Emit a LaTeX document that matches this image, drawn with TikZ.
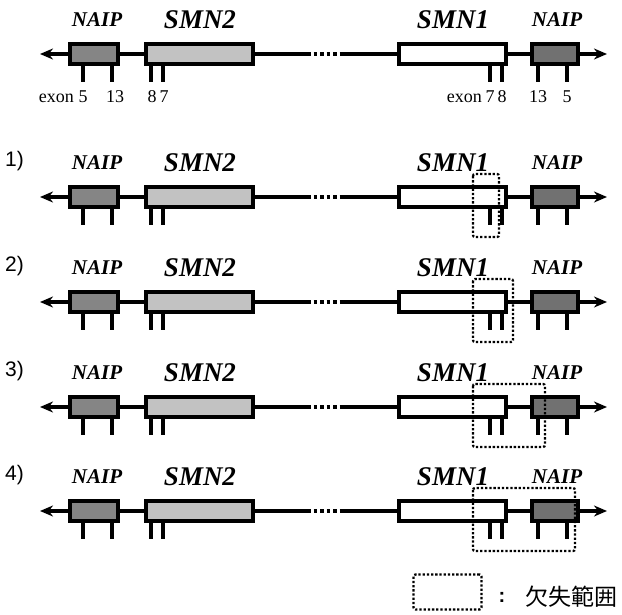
\documentclass[tikz,border=0pt]{standalone}
\usepackage{fontspec}
\setmainfont{Liberation Serif}
\newfontfamily\rowfont{Liberation Sans}
\newfontfamily\cjk{Noto Sans CJK JP}
\usetikzlibrary{arrows.meta}

\definecolor{naipgray}{gray}{0.52}
\definecolor{smngray}{gray}{0.76}

\tikzset{
  genebox/.style={draw, line width=3.6pt, rectangle, inner sep=0pt, minimum height=20.5pt},
  chromline/.style={line width=3.2pt},
  exontick/.style={line width=4pt},
  delbox/.style={line width=2.3pt, dash pattern=on 2.3pt off 1.9pt, rounded corners=2pt},
  smnlabel/.style={font=\fontsize{27}{27}\selectfont\bfseries\itshape},
  naiplabel/.style={font=\fontsize{21}{21}\selectfont\bfseries\itshape},
  exonlabel/.style={font=\fontsize{18}{18}\selectfont, inner sep=0pt, anchor=base},
}

\begin{document}
\begin{tikzpicture}[x=1pt, y=-1pt]
    \useasboundingbox (0,0) rectangle (622,614);
    % five copies of the region, reference first
    \foreach \n/\L in {0/54, 1/197, 2/302, 3/407, 4/511} {
        \coordinate (tipL\n) at (40,\L);
        \coordinate (gapA\n) at (307,\L);
        \coordinate (gapB\n) at (342,\L);
        \coordinate (tipR\n) at (607,\L);
        \node[genebox, fill=naipgray, minimum width=48.5pt] (naipL\n) at (94,\L) {};
        \node[genebox, fill=smngray, minimum width=107.5pt] (smnii\n) at (199.5,\L) {};
        \node[genebox, fill=white, minimum width=107.5pt] (smni\n) at (452.5,\L) {};
        \node[genebox, fill=naipgray!85!black, minimum width=46.5pt] (naipR\n) at (555,\L) {};
        \draw[chromline, -{Stealth[length=13pt, width=11pt]}] (naipL\n.west) -- (tipL\n);
        \draw[chromline] (naipL\n.east) -- (smnii\n.west);
        \draw[chromline] (smnii\n.east) -- (gapA\n);
        \draw[chromline, dash pattern=on 3.5pt off 3pt] (gapA\n) -- (gapB\n);
        \draw[chromline] (gapB\n) -- (smni\n.west);
        \draw[chromline] (smni\n.east) -- (naipR\n.west);
        \draw[chromline, -{Stealth[length=13pt, width=11pt]}] (naipR\n.east) -- (tipR\n);
        \foreach \t in {83,112,151,163,490,502,538,567}
            \draw[exontick] (\t,\L+12) -- (\t,\L+28);
        \node[naiplabel] (lnaipL\n) at (97,\L-34) {NAIP};
        \node[smnlabel] (lsmnii\n) at (200,\L-34) {SMN2};
        \node[smnlabel] (lsmni\n) at (453,\L-34) {SMN1};
        \node[naiplabel] (lnaipR\n) at (557,\L-34) {NAIP};
    }
    % exon numbers
    \node[exonlabel, anchor=base east] at (74,102) {exon};
    \node[exonlabel] at (83,102) {5};
    \node[exonlabel] at (115,102) {13};
    \node[exonlabel] at (152,102) {8};
    \node[exonlabel] at (164,102) {7};
    \node[exonlabel, anchor=base east] at (482,102) {exon};
    \node[exonlabel] at (490,102) {7};
    \node[exonlabel] at (502,102) {8};
    \node[exonlabel] at (538,102) {13};
    \node[exonlabel] at (567,102) {5};
    % deleted ranges
    \foreach \n/\L/\d in {1/197/499, 2/302/513, 3/407/545, 4/511/575} {
        \node[font=\rowfont\fontsize{21}{21}\selectfont, anchor=west, inner sep=0pt] (num\n) at (5,\L-36) {\n)};
        \draw[delbox] (473,\L-23) rectangle (\d,\L+40);
    }
    \node[draw, delbox, minimum width=68pt, minimum height=35pt] (legbox) at (447.5,592) {};
    \node[font=\rowfont\bfseries\fontsize{20}{20}\selectfont] (legcolon) at (502,597) {:};
    \node[font=\cjk\fontsize{23}{23}\selectfont] (legtext) at (571,597) {欠失範囲};
\end{tikzpicture}
\end{document}
